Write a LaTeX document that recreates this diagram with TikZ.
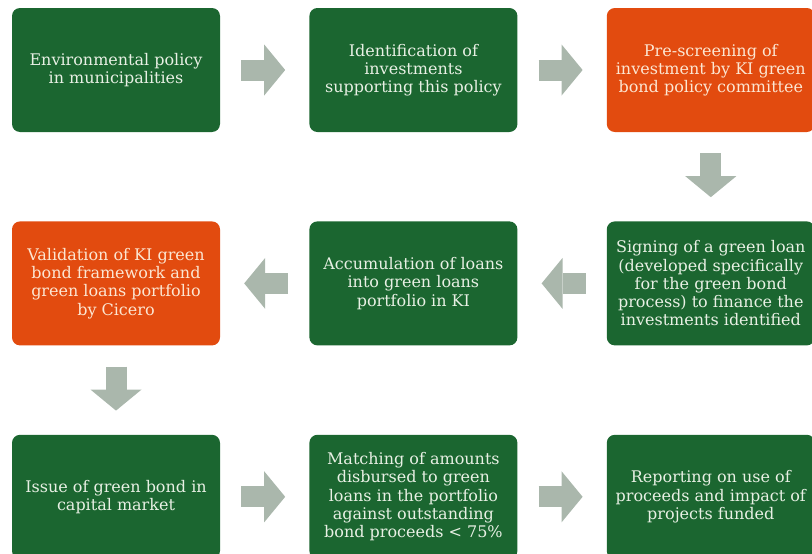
\documentclass[tikz,border=0pt]{standalone}
\usepackage{fontspec}
\setmainfont{DejaVu Serif}
\usetikzlibrary{positioning, arrows.meta}
\definecolor{kigreen}{RGB}{27,102,48}
\definecolor{kiorange}{RGB}{226,75,15}
\definecolor{kigray}{RGB}{170,183,172}
\definecolor{kitext}{RGB}{232,240,228}
\tikzstyle{greenbox} = [rectangle, rounded corners=8pt, minimum width=208pt, minimum height=124pt, text centered, align=center, fill=kigreen, text=kitext, font=\fontsize{16}{18.3}\selectfont]
\tikzstyle{orangebox} = [greenbox, fill=kiorange, text={rgb,255:red,252;green,230;blue,210}]
\tikzstyle{blockarrow} = [draw=kigray, line width=21pt, -{Triangle[width=51pt,length=21pt,line width=0pt]}, shorten <=21pt, shorten >=24pt]

\begin{document}
\begin{tikzpicture}
[x=1pt, y=-1pt, node distance=89pt and 89pt]
\useasboundingbox (0,0) rectangle (812,554);

\node (policy) [greenbox] at (116,70) {Environmental policy\\in municipalities};
\node (identify) [greenbox, right=of policy] {Identification of\\investments\\supporting this policy};
\node (screening) [orangebox, right=of identify] {Pre-screening of\\investment by KI green\\bond policy committee};
\node (signing) [greenbox, below=of screening] {Signing of a green loan\\(developed specifically\\for the green bond\\process) to finance the\\investments identified};
\node (accumulate) [greenbox, left=of signing] {Accumulation of loans\\into green loans\\portfolio in KI};
\node (validate) [orangebox, left=of accumulate] {Validation of KI green\\bond framework and\\green loans portfolio\\by Cicero};
\node (issue) [greenbox, below=of validate] {Issue of green bond in\\capital market};
\node (matching) [greenbox, right=of issue] {Matching of amounts\\disbursed to green\\loans in the portfolio\\against outstanding\\bond proceeds < 75\%};
\node (report) [greenbox, right=of matching] {Reporting on use of\\proceeds and impact of\\projects funded};

\draw [blockarrow] (policy) -- (identify);
\draw [blockarrow] (identify) -- (screening);
\draw [blockarrow] (screening) -- (signing);
\draw [blockarrow] (signing) -- (accumulate);
\draw [blockarrow] (accumulate) -- (validate);
\draw [blockarrow] (validate) -- (issue);
\draw [blockarrow] (issue) -- (matching);
\draw [blockarrow] (matching) -- (report);
\end{tikzpicture}
\end{document}
